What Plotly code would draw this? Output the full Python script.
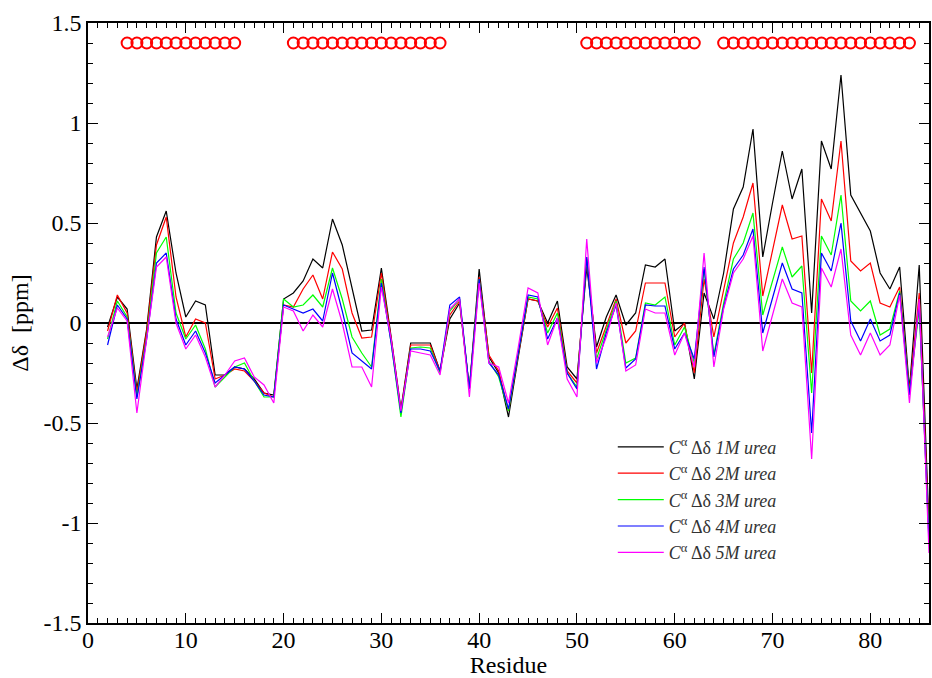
import plotly.graph_objects as go

residues = list(range(2, 87))

urea_1M = [-0.02, 0.13, 0.07, -0.33, -0.03, 0.43, 0.56, 0.25, 0.03, 0.11,
           0.09, -0.26, -0.26, -0.22, -0.23, -0.28, -0.35, -0.36, 0.12, 0.15,
           0.21, 0.32, 0.275, 0.52, 0.39, 0.18, -0.04, -0.035, 0.275, -0.07,
           -0.43, -0.10, -0.10, -0.10, -0.24, 0.02, 0.10, -0.33, 0.27, -0.17,
           -0.25, -0.47, -0.17, 0.12, 0.11, 0.0, 0.11, -0.22, -0.28, 0.28,
           -0.12, 0.03, 0.14, -0.01, 0.05, 0.29, 0.28, 0.32, -0.04, 0.0,
           -0.28, 0.15, 0.02, 0.25, 0.57, 0.68, 0.97, 0.33, 0.60, 0.86,
           0.62, 0.77, 0.05, 0.91, 0.77, 1.24, 0.64, 0.55, 0.46, 0.25,
           0.17, 0.28, -0.33, 0.29, -1.02]

urea_2M = [-0.04, 0.14, 0.05, -0.35, -0.04, 0.39, 0.53, 0.13, -0.07, 0.02,
           0.0, -0.28, -0.26, -0.23, -0.24, -0.29, -0.35, -0.37, 0.09, 0.08,
           0.17, 0.24, 0.12, 0.355, 0.27, 0.05, -0.075, -0.07, 0.25, -0.08,
           -0.44, -0.11, -0.11, -0.11, -0.24, 0.04, 0.11, -0.33, 0.23, -0.16,
           -0.24, -0.44, -0.16, 0.12, 0.11, -0.02, 0.075, -0.24, -0.30, 0.32,
           -0.15, -0.02, 0.12, -0.10, -0.04, 0.20, 0.20, 0.20, -0.07, 0.0,
           -0.25, 0.22, -0.07, 0.16, 0.40, 0.53, 0.70, 0.135, 0.36, 0.59,
           0.42, 0.435, -0.25, 0.62, 0.51, 0.91, 0.31, 0.26, 0.30, 0.10,
           0.08, 0.18, -0.34, 0.15, -1.05]

urea_3M = [-0.08, 0.11, 0.03, -0.37, -0.07, 0.35, 0.43, 0.05, -0.08, -0.01,
           -0.13, -0.32, -0.27, -0.22, -0.20, -0.29, -0.37, -0.37, 0.12, 0.08,
           0.09, 0.14, 0.08, 0.275, 0.12, -0.07, -0.15, -0.22, 0.22, -0.10,
           -0.47, -0.125, -0.12, -0.125, -0.25, 0.06, 0.12, -0.33, 0.22, -0.19,
           -0.27, -0.44, -0.15, 0.13, 0.12, -0.05, 0.05, -0.25, -0.32, 0.33,
           -0.18, -0.03, 0.11, -0.20, -0.175, 0.10, 0.09, 0.13, -0.11, -0.02,
           -0.20, 0.27, -0.16, 0.10, 0.32, 0.40, 0.55, 0.04, 0.21, 0.38,
           0.23, 0.285, -0.35, 0.435, 0.34, 0.64, 0.11, 0.06, 0.11, -0.06,
           -0.03, 0.16, -0.35, 0.07, -1.08]

urea_4M = [-0.11, 0.09, 0.02, -0.38, -0.08, 0.30, 0.35, 0.02, -0.11, -0.04,
           -0.15, -0.30, -0.26, -0.22, -0.23, -0.29, -0.36, -0.37, 0.09, 0.07,
           0.05, 0.07, 0.01, 0.25, 0.06, -0.15, -0.19, -0.23, 0.20, -0.10,
           -0.45, -0.13, -0.13, -0.14, -0.24, 0.09, 0.13, -0.33, 0.22, -0.20,
           -0.26, -0.43, -0.15, 0.14, 0.13, -0.08, 0.025, -0.25, -0.33, 0.33,
           -0.23, -0.05, 0.09, -0.225, -0.18, 0.09, 0.085, 0.085, -0.13, -0.05,
           -0.18, 0.28, -0.17, 0.08, 0.27, 0.34, 0.47, -0.05, 0.125, 0.30,
           0.17, 0.15, -0.55, 0.35, 0.26, 0.50, 0.01, -0.09, 0.02, -0.09,
           -0.06, 0.15, -0.36, 0.10, -1.10]

urea_5M = [-0.07, 0.075, 0.01, -0.45, -0.08, 0.28, 0.33, 0.0, -0.13, -0.06,
           -0.17, -0.32, -0.26, -0.19, -0.175, -0.27, -0.31, -0.40, 0.08, 0.06,
           -0.04, 0.04, -0.02, 0.17, 0.0, -0.22, -0.22, -0.32, 0.18, -0.08,
           -0.44, -0.14, -0.15, -0.16, -0.26, 0.07, 0.12, -0.37, 0.20, -0.20,
           -0.22, -0.40, -0.12, 0.175, 0.15, -0.11, 0.025, -0.28, -0.37, 0.42,
           -0.20, -0.07, 0.10, -0.24, -0.21, 0.07, 0.05, 0.05, -0.16, -0.05,
           -0.22, 0.35, -0.22, 0.07, 0.25, 0.32, 0.435, -0.14, 0.04, 0.22,
           0.10, 0.08, -0.68, 0.275, 0.18, 0.37, -0.06, -0.16, -0.05, -0.16,
           -0.11, 0.14, -0.40, 0.12, -1.15]

series_names = ["1M urea", "2M urea", "3M urea", "4M urea", "5M urea"]
series_colors = ["#000000", "#ff0000", "#00ff00", "#0000ff", "#ff00ff"]

helix_residues = (list(range(4, 16)) + list(range(21, 37))
                  + list(range(51, 63)) + list(range(65, 85)))
helix_level = 1.4

y_tickvals = [-1.5, -1, -0.5, 0, 0.5, 1, 1.5]
y_ticktext = ["-1.5", "-1", "-0.5", "0", "0.5", "1", "1.5"]
x_tickvals = [0, 10, 20, 30, 40, 50, 60, 70, 80]
x_ticktext = ["0", "10", "20", "30", "40", "50", "60", "70", "80"]

FONT = "Liberation Serif"

fig = go.Figure()
all_series = [urea_1M, urea_2M, urea_3M, urea_4M, urea_5M]
for vals, name, col in zip(all_series, series_names, series_colors):
    fig.add_trace(go.Scatter(
        x=residues, y=vals, mode="lines",
        line=dict(color=col, width=1.2),
        name="<i>C</i><sup>α</sup> Δδ <i>" + name + "</i>",
    ))

fig.add_trace(go.Scatter(
    x=helix_residues, y=[helix_level] * len(helix_residues),
    mode="markers", showlegend=False,
    marker=dict(symbol="circle-open", size=11, color="#ff0000",
                line=dict(width=2, color="#ff0000")),
))

axis_common = dict(
    showline=True, linecolor="black", linewidth=1.5, mirror="ticks",
    ticks="inside", ticklen=10, tickwidth=1.3, tickcolor="black",
    showgrid=False,
    tickfont=dict(family=FONT, size=24, color="black"),
)

fig.update_xaxes(
    range=[0, 86], tickmode="array", tickvals=x_tickvals, ticktext=x_ticktext,
    minor=dict(dtick=1, ticklen=5, ticks="inside", tickcolor="black", tickwidth=1.1),
    zeroline=False, ticklabelstandoff=-6,
    title=dict(text="Residue", font=dict(family=FONT, size=24, color="black"), standoff=0),
    **axis_common,
)
fig.update_yaxes(
    range=[-1.5, 1.5], tickmode="array", tickvals=y_tickvals, ticktext=y_ticktext,
    minor=dict(dtick=0.1, tick0=0, ticklen=5, ticks="inside", tickcolor="black", tickwidth=1.1),
    zeroline=True, zerolinecolor="black", zerolinewidth=1.5,
    title=dict(text="Δδ  [ppm]", font=dict(family=FONT, size=24, color="black"), standoff=8),
    **axis_common,
)

fig.update_layout(
    width=932, height=678,
    margin=dict(l=88, r=1, t=23, b=55),
    plot_bgcolor="white", paper_bgcolor="white",
    font=dict(family=FONT, color="black"),
    legend=dict(
        x=0.624, y=0.324, xanchor="left", yanchor="top",
        bgcolor="rgba(0,0,0,0)", borderwidth=0, itemwidth=46,
        font=dict(family=FONT, size=18, color="#333333"),
        tracegroupgap=0,
    ),
)

fig.write_html("out.html", config={"displayModeBar": False},
               post_script="document.body.style.margin='0px';")
